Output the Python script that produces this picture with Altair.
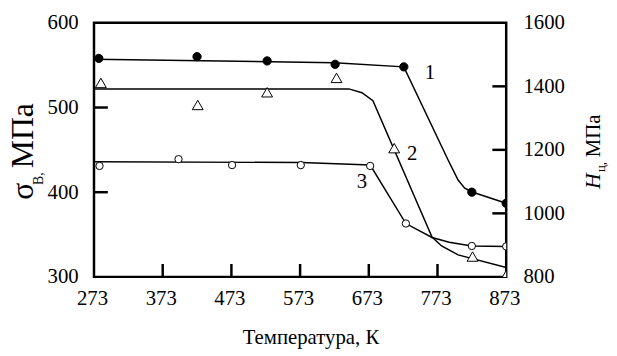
import altair as alt
import pandas as pd

FONT = "Liberation Serif"

# ---- marker data (temperature K, value MPa) ----
t1 = [280, 423, 525, 624, 724, 823, 873]
s1 = [558, 560, 555, 551, 548, 400, 387]

t2 = [283, 424, 525, 626, 710, 824, 873]
s2 = [529, 503, 518, 535, 452, 324, 302]

t3 = [281, 396, 474, 574, 675, 727, 823, 873]
s3 = [431, 439, 432, 432, 431, 363, 336.5, 336]

# ---- drawn (fitted) curves ----
lx1 = [273, 623, 724, 788.6, 803, 812.6, 824.5, 873]
ly1 = [557, 553, 548, 437.7, 414.4, 404.7, 400, 387]

lx2 = [273, 644, 663, 679, 765, 779, 803, 873]
ly2 = [522, 522, 517.5, 508, 347, 336.5, 326, 311]

lx3 = [273, 575, 675, 727, 765, 790, 823, 873]
ly3 = [436, 435, 432, 363, 346.5, 341, 336.5, 336]

# ---- curve labels ----
lab_text = ["1", "2", "3"]
lab_x = [762, 736, 663]
lab_y = [541, 445.5, 412.5]

# ---- axes ----
x_ticks = [273, 373, 473, 573, 673, 773, 873]
x_inner = [373, 473, 573, 673, 773]
y_ticks = [300, 400, 500, 600]
y_inner = [400, 500]
r_ticks = [800, 1000, 1200, 1400, 1600]
r_inner = [1000, 1200, 1400]

W, H = 417, 257
xs = alt.Scale(domain=[273, 873], nice=False, zero=False)
ys = alt.Scale(domain=[300, 600], nice=False, zero=False)
rs = alt.Scale(domain=[800, 1600], nice=False, zero=False)

xaxis = alt.Axis(values=x_ticks, title=None, ticks=False, domain=False, grid=False, format="d",
                 labelFont=FONT, labelFontSize=21, labelColor="black", labelPadding=11,
                 labelOffset=-2, labelFlush=False, labelOverlap=False)
yaxis = alt.Axis(values=y_ticks, title=None, ticks=False, domain=False, grid=False, format="d",
                 labelFont=FONT, labelFontSize=21, labelColor="black", labelPadding=16,
                 labelFlush=False, labelOverlap=False)
raxis = alt.Axis(values=r_ticks, orient="right", title=None, ticks=False, domain=False, grid=False,
                 format="d", labelFont=FONT, labelFontSize=21, labelColor="black", labelPadding=17,
                 labelFlush=False, labelOverlap=False)

X = lambda f: alt.X(f, scale=xs, axis=xaxis)
Y = lambda f: alt.Y(f, scale=ys, axis=yaxis)


def line(xv, yv):
    df = pd.DataFrame({"T": xv, "S": yv, "o": list(range(len(xv)))})
    return alt.Chart(df).mark_line(color="black", strokeWidth=1.5).encode(
        x=X("T:Q"), y=Y("S:Q"), order="o:Q")


def pts(xv, yv, shape, size, fill):
    df = pd.DataFrame({"T": xv, "S": yv})
    return alt.Chart(df).mark_point(shape=shape, size=size, filled=True, fill=fill,
                                    stroke="black", strokeWidth=1, opacity=1, clip=True).encode(
        x=X("T:Q"), y=Y("S:Q"))


def rtxt(s, x, y, size, style="normal"):
    return alt.Chart(pd.DataFrame({"t": [s]})).mark_text(
        font=FONT, fontSize=size, angle=270, align="left", baseline="alphabetic",
        color="black", fontStyle=style).encode(x=alt.value(x), y=alt.value(y), text="t:N")


labels = alt.Chart(pd.DataFrame({"T": lab_x, "S": lab_y, "t": lab_text})).mark_text(
    font=FONT, fontSize=21, color="black", align="center", baseline="middle").encode(
    x=X("T:Q"), y=Y("S:Q"), text="t:N")

bottom_ticks = alt.Chart(pd.DataFrame({"T": x_inner})).mark_rule(
    color="black", strokeWidth=2.5).encode(
    x=X("T:Q"), y=alt.value(H), y2=alt.value(H - 13))

left_ticks = alt.Chart(pd.DataFrame({"S": y_inner})).mark_rule(
    color="black", strokeWidth=2.5).encode(
    y=Y("S:Q"), x=alt.value(0), x2=alt.value(14))

xtitle = alt.Chart(pd.DataFrame({"t": ["Температура, К"]})).mark_text(
    font=FONT, fontSize=21, color="black", align="center", baseline="alphabetic").encode(
    x=alt.value(219.5), y=alt.value(325), text="t:N")

left = alt.layer(
    line(lx1, ly1), line(lx2, ly2), line(lx3, ly3),
    pts(t1, s1, "circle", 70, "black"),
    pts(t2, s2, "triangle-up", 121, "white"),
    pts(t3, s3, "circle", 55, "white"),
    labels, bottom_ticks, left_ticks, xtitle,
    rtxt("σ", -62, 179, 32), rtxt("В,", -52, 164, 14), rtxt("МПа", -62, 147, 32),
    rtxt("H", 512, 168, 22, "italic"), rtxt("ц,", 517, 151, 13), rtxt("МПа", 512, 136, 21),
)

right = alt.Chart(pd.DataFrame({"R": r_inner})).mark_rule(
    color="black", strokeWidth=2.5).encode(
    y=alt.Y("R:Q", scale=rs, axis=raxis), x=alt.value(W), x2=alt.value(W - 14))

chart = alt.layer(left, right).resolve_scale(y="independent").properties(
    width=W, height=H,
    autosize=alt.AutoSizeParams(type="none"),
    padding={"left": 87, "top": 13, "right": 104, "bottom": 75},
    background="white",
).configure_view(stroke="black", strokeWidth=2.5)

chart.save("out.html", embed_options={"renderer": "svg", "actions": False})
